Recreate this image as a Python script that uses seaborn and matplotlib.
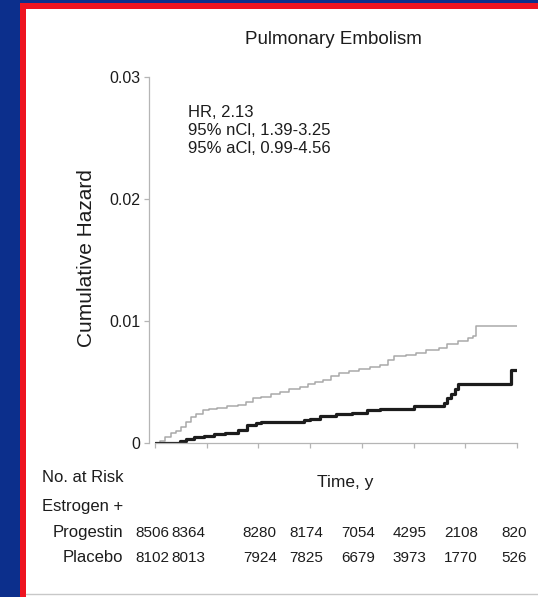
import matplotlib
matplotlib.use("Agg")
import matplotlib.pyplot as plt
import numpy as np
import pandas as pd
import seaborn as sns
from matplotlib.patches import Rectangle
from matplotlib.transforms import blended_transform_factory, offset_copy

# Cumulative hazard step curves (time in years, cumulative hazard)
ep_time = [0.00, 0.10, 0.20, 0.30, 0.40, 0.50, 0.60, 0.70, 0.80, 0.92, 1.05, 1.20,
           1.40, 1.60, 1.75, 1.90, 2.05, 2.25, 2.42, 2.60, 2.80, 2.95, 3.10, 3.25,
           3.40, 3.55, 3.75, 3.95, 4.15, 4.35, 4.50, 4.62, 4.85, 5.05, 5.25, 5.50,
           5.65, 5.85, 6.05, 6.15, 6.20, 7.00]
ep_hazard = [0.0000, 0.0002, 0.0005, 0.0008, 0.0010, 0.0013, 0.0017, 0.0021, 0.0024,
             0.0027, 0.0028, 0.0029, 0.0030, 0.0031, 0.0034, 0.0037, 0.0038, 0.0040,
             0.0042, 0.0044, 0.0046, 0.0048, 0.0050, 0.0052, 0.0055, 0.0057, 0.0059,
             0.0061, 0.0062, 0.0064, 0.0068, 0.0071, 0.0072, 0.0074, 0.0076, 0.0078,
             0.0081, 0.0084, 0.0086, 0.0088, 0.0096, 0.0096]

pl_time = [0.00, 0.48, 0.60, 0.75, 0.95, 1.15, 1.35, 1.60, 1.78, 1.95, 2.05, 2.88,
           3.00, 3.20, 3.50, 3.80, 4.10, 4.35, 5.00, 5.58, 5.65, 5.72, 5.80, 5.85,
           6.88, 7.00]
pl_hazard = [0.0000, 0.0002, 0.0003, 0.0005, 0.0006, 0.0007, 0.0008, 0.0011, 0.0015,
             0.0016, 0.0017, 0.0019, 0.0020, 0.0022, 0.0024, 0.0025, 0.0027, 0.0028,
             0.0030, 0.0033, 0.0037, 0.0040, 0.0044, 0.0048, 0.0060, 0.0060]

# Numbers at risk, one per year
risk_years = [0, 1, 2, 3, 4, 5, 6, 7]
risk_ep = [8506, 8364, 8280, 8174, 7054, 4295, 2108, 820]
risk_pl = [8102, 8013, 7924, 7825, 6679, 3973, 1770, 526]

y_ticks = [0, 0.01, 0.02, 0.03]
y_tick_labels = ["0", "0.01", "0.02", "0.03"]

stats_lines = ["HR, 2.13", "95% nCl, 1.39-3.25", "95% aCl, 0.99-4.56"]

sns.set_style("white")
plt.rcParams["font.family"] = ["Liberation Sans", "DejaVu Sans"]

TEXT = "#1c1c1c"
AXIS = "#b5b5b5"

W, H = 538, 597
fig = plt.figure(figsize=(W / 100, H / 100), dpi=100)
fig.patch.set_facecolor("#0c2f8c")


def fx(px):
    return px / W


def fy(py):
    return 1 - py / H


# slide frame: red border and white panel
fig.patches.append(Rectangle((fx(20), 0), 1 - fx(20), fy(3), transform=fig.transFigure,
                             facecolor="#ee1420", edgecolor="none", zorder=-5))
fig.patches.append(Rectangle((fx(26), 0), 1 - fx(26), fy(9), transform=fig.transFigure,
                             facecolor="white", edgecolor="none", zorder=-4))
fig.add_artist(plt.Line2D([fx(26), 1], [fy(594), fy(594)], transform=fig.transFigure,
                          color="#c8c8c8", lw=1))

ax = fig.add_axes([fx(155), fy(443), fx(517) - fx(155), fy(77) - fy(443)])
ax.set_facecolor("none")

df_ep = pd.DataFrame({"time": ep_time, "hazard": ep_hazard})
df_pl = pd.DataFrame({"time": pl_time, "hazard": pl_hazard})

sns.lineplot(data=df_ep, x="time", y="hazard", ax=ax, color="#a9a9a9", lw=1.1,
             drawstyle="steps-post", estimator=None, sort=False)
sns.lineplot(data=df_pl, x="time", y="hazard", ax=ax, color="#1c1c1c", lw=2.3,
             drawstyle="steps-post", estimator=None, sort=False)

ax.set_xlim(0, 7)
ax.set_ylim(0, 0.03)
ax.set_xticks(risk_years)
ax.set_xticklabels([])
ax.set_yticks(y_ticks)
ax.set_yticklabels(y_tick_labels)
ax.set_xlabel("")
ax.set_ylabel("")

for side in ("top", "right"):
    ax.spines[side].set_visible(False)
for side in ("left", "bottom"):
    ax.spines[side].set_color(AXIS)
    ax.spines[side].set_linewidth(0.9)
ax.spines["left"].set_position(("outward", 4))
ax.tick_params(axis="both", bottom=True, left=True, colors=AXIS, direction="out",
               length=3.5, width=0.9, labelcolor=TEXT)
ax.tick_params(axis="y", labelsize=11.5, pad=3)

fig.text(fx(87), fy(258), "Cumulative Hazard", rotation=90, ha="center", va="center",
         fontsize=15, color=TEXT)

fig.text(fx(333), fy(39), "Pulmonary Embolism", ha="center", va="center",
         fontsize=13.5, color=TEXT)

fig.text(fx(188), fy(105), "\n".join(stats_lines), ha="left", va="top",
         fontsize=12, color=TEXT, linespacing=1.24)

fig.text(fx(345), fy(483), "Time, y", ha="center", va="center", fontsize=12.5,
         color=TEXT)

fig.text(fx(42), fy(477), "No. at Risk", ha="left", va="center", fontsize=12,
         color=TEXT)
fig.text(fx(42), fy(507), "Estrogen +", ha="left", va="center", fontsize=12,
         color=TEXT)
fig.text(fx(123), fy(533), "Progestin", ha="right", va="center", fontsize=12,
         color=TEXT)
fig.text(fx(123), fy(558), "Placebo", ha="right", va="center", fontsize=12,
         color=TEXT)

# column nudges (points) for the printed risk table
col_shift = [-2, -13, 1, -3, -3, -3, -3, -2]
trans = blended_transform_factory(ax.transData, fig.transFigure)
for yr, a, b, dx in zip(risk_years, risk_ep, risk_pl, col_shift):
    t = offset_copy(trans, fig=fig, x=dx, y=0, units="points")
    ax.text(yr, fy(533), str(a), transform=t, ha="center", va="center",
            fontsize=11, color=TEXT, clip_on=False)
    ax.text(yr, fy(558), str(b), transform=t, ha="center", va="center",
            fontsize=11, color=TEXT, clip_on=False)

fig.savefig("out.png", dpi=100, facecolor=fig.get_facecolor())
